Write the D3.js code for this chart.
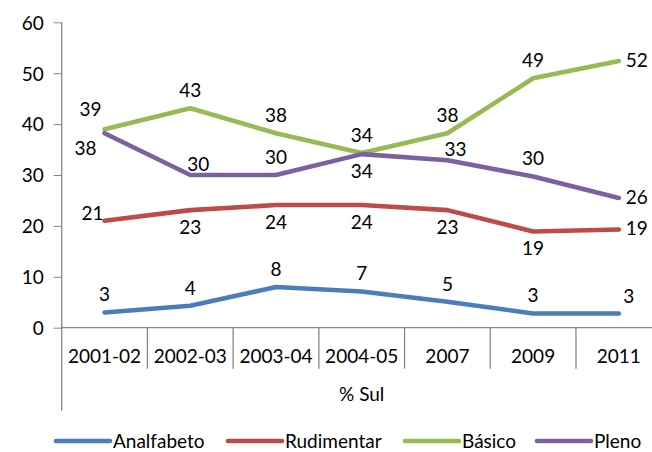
<!DOCTYPE html>
<html lang="pt">
<head>
<meta charset="utf-8">
<title>% Sul</title>
<script src="https://d3js.org/d3.v7.min.js"></script>
<style>
	body { margin: 0; background: #fff; }
	svg text { font-family: Lato, "Liberation Sans", sans-serif; fill: #000; }
</style>
</head>
<body>
<div id="chart"></div>
<script>
// data
const categories = ["2001-02", "2002-03", "2003-04", "2004-05", "2007", "2009", "2011"];
const seriesNames = ["Analfabeto", "Rudimentar", "Básico", "Pleno"];
const analfabeto = [3.0, 4.3, 8.0, 7.1, 5.1, 2.8, 2.8];
const rudimentar = [21.0, 23.1, 24.1, 24.1, 23.1, 18.9, 19.3];
const basico = [39.0, 43.1, 38.2, 34.3, 38.2, 49.0, 52.4];
const pleno = [38.2, 30.0, 30.0, 34.1, 32.9, 29.7, 25.5];
const yTicks = [0, 10, 20, 30, 40, 50, 60];
const axisTitle = "% Sul";

// where each value label sits relative to its point
const labelPlace = [
	["t", "t", "t", "t", "t", "t", "rt"],
	["l", "b", "b", "b", "b", "b", "r"],
	["tl", "t", "t", "t", "t", "t", "r"],
	["bl", "tr", "t", "b", "tr", "t", "r"]
];
const placeOffset = {
	t: [0, -18], b: [0, 17], r: [18, -1], rt: [10, -17],
	l: [-12, -8], tl: [-14, -20], bl: [-19, 15], tr: [8, -11]
};

const colors = ["#4A7EBB", "#BE4B48", "#98B954", "#7D60A0"];
const values = [analfabeto, rudimentar, basico, pleno];

const W = 652, H = 452;
const margin = { top: 22.3, left: 61.7 };
const plotW = 600, plotH = 305.4;
const fontSize = 19;

const svg = d3.select("#chart").append("svg")
	.attr("width", W).attr("height", H);

const g = svg.append("g")
	.attr("transform", `translate(${margin.left},${margin.top})`);

const x = d3.scaleBand().domain(categories).range([0, plotW]);
const y = d3.scaleLinear().domain([0, 60]).range([plotH, 0]);
const cx = d => x(d) + x.bandwidth() / 2;

// y axis
const yAxis = g.append("g")
	.call(d3.axisLeft(y).tickValues(yTicks).tickSize(8).tickPadding(10).tickSizeOuter(0));
yAxis.select(".domain").remove();
yAxis.selectAll("line").attr("stroke", "#868686");
yAxis.selectAll("text").style("font-size", fontSize + "px").attr("dy", "0.36em");

const axisColor = "#868686";
// vertical axis line runs down through the category area
g.append("line")
	.attr("x1", 0).attr("x2", 0)
	.attr("y1", 0).attr("y2", plotH + 83)
	.attr("stroke", axisColor).attr("stroke-width", 1.3);
// horizontal axis
g.append("line")
	.attr("x1", 0).attr("x2", plotW)
	.attr("y1", plotH).attr("y2", plotH)
	.attr("stroke", axisColor).attr("stroke-width", 1.3);
// category separators
g.selectAll(".sep")
	.data(categories.slice(1).concat(["end"]))
	.join("line")
	.attr("class", "sep")
	.attr("x1", d => d === "end" ? plotW : x(d))
	.attr("x2", d => d === "end" ? plotW : x(d))
	.attr("y1", plotH).attr("y2", plotH + 41)
	.attr("stroke", axisColor).attr("stroke-width", 1.3);

// category labels
const xAxis = g.append("g")
	.attr("transform", `translate(0,${plotH})`)
	.call(d3.axisBottom(x).tickSize(0).tickPadding(0));
xAxis.select(".domain").remove();
xAxis.selectAll("text")
	.attr("y", 28).attr("dy", "0.36em")
	.style("font-size", fontSize + "px");

g.append("text")
	.attr("x", plotW / 2).attr("y", plotH + 66)
	.attr("dy", "0.36em")
	.attr("text-anchor", "middle")
	.style("font-size", fontSize + "px")
	.text(axisTitle);

// lines
const line = d3.line()
	.x((d, i) => cx(categories[i]))
	.y(d => y(d));

g.selectAll(".series")
	.data(values)
	.join("path")
	.attr("class", "series")
	.attr("d", line)
	.attr("fill", "none")
	.attr("stroke", (d, i) => colors[i])
	.attr("stroke-width", 4.6)
	.attr("stroke-linecap", "round")
	.attr("stroke-linejoin", "round");

// value labels
values.forEach((vals, s) => {
	g.selectAll(".lbl" + s)
		.data(vals)
		.join("text")
		.attr("class", "lbl" + s)
		.attr("x", (d, i) => cx(categories[i]) + placeOffset[labelPlace[s][i]][0])
		.attr("y", (d, i) => y(d) + placeOffset[labelPlace[s][i]][1])
		.attr("dy", "0.36em")
		.attr("text-anchor", "middle")
		.style("font-size", fontSize + "px")
		.text(d => Math.round(d));
});

// legend
const legendX = [56, 228, 405, 537];
const legend = svg.append("g").attr("transform", "translate(0,441)");
seriesNames.forEach((name, i) => {
	legend.append("line")
		.attr("x1", legendX[i]).attr("x2", legendX[i] + 54)
		.attr("y1", 0).attr("y2", 0)
		.attr("stroke", colors[i]).attr("stroke-width", 4.6)
		.attr("stroke-linecap", "round");
	legend.append("text")
		.attr("x", legendX[i] + 57).attr("y", 0)
		.attr("dy", "0.36em")
		.style("font-size", fontSize + "px")
		.text(name);
});
</script>
</body>
</html>
